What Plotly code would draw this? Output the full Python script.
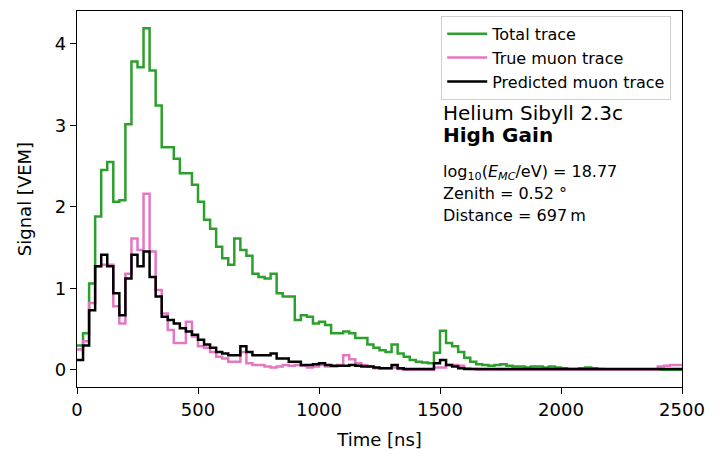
import plotly.graph_objects as go

BIN_NS = 25
# per-bin values (25 ns bins starting at 0 ns)
total_trace = [
    0.30, 0.45, 1.06, 1.88, 2.45, 2.55, 2.06, 2.08, 3.01, 3.78,
    3.71, 4.19, 3.67, 3.24, 2.73, 2.73, 2.59, 2.41, 2.41, 2.27,
    2.06, 1.84, 1.73, 1.51, 1.37, 1.29, 1.61, 1.47, 1.40, 1.18,
    1.14, 1.12, 1.18, 0.94, 0.90, 0.90, 0.61, 0.67, 0.65, 0.57,
    0.59, 0.55, 0.45, 0.45, 0.47, 0.45, 0.39, 0.39, 0.31, 0.27,
    0.24, 0.22, 0.31, 0.20, 0.16, 0.12, 0.10, 0.09, 0.08, 0.21,
    0.48, 0.33, 0.29, 0.22, 0.15, 0.10, 0.07, 0.06, 0.05, 0.06,
    0.07, 0.05, 0.04, 0.04, 0.03, 0.04, 0.04, 0.03, 0.04, 0.03,
    0.02, 0.01, 0.01, 0.02, 0.03, 0.02, 0.01, 0.00, 0.00, 0.00,
    0.00, 0.00, 0.00, 0.00, 0.00, 0.00, 0.00, 0.00, 0.00, 0.00,
]
true_muon = [
    0.25, 0.35, 0.82, 1.27, 1.29, 1.29, 0.78, 0.57, 1.18, 1.61,
    1.47, 2.16, 1.45, 0.98, 0.69, 0.49, 0.33, 0.33, 0.59, 0.41,
    0.29, 0.27, 0.22, 0.16, 0.14, 0.10, 0.10, 0.22, 0.08, 0.06,
    0.06, 0.04, 0.03, 0.04, 0.06, 0.05, 0.06, 0.05, 0.03, 0.04,
    0.06, 0.04, 0.04, 0.06, 0.18, 0.13, 0.08, 0.06, 0.04, 0.02,
    0.02, 0.02, 0.03, 0.01, 0.00, 0.00, 0.00, 0.00, 0.00, 0.03,
    0.03, 0.06, 0.06, 0.05, 0.02, 0.01, 0.00, 0.00, 0.00, 0.00,
    0.00, 0.00, 0.00, 0.00, 0.00, 0.00, 0.00, 0.00, 0.00, 0.00,
    0.00, 0.00, 0.00, 0.00, 0.00, 0.00, 0.00, 0.00, 0.00, 0.00,
    0.00, 0.00, 0.00, 0.00, 0.00, 0.00, 0.04, 0.05, 0.06, 0.06,
]
predicted_muon = [
    0.12, 0.30, 0.73, 1.27, 1.41, 1.27, 0.94, 0.67, 1.12, 1.41,
    1.27, 1.45, 1.14, 0.90, 0.65, 0.61, 0.57, 0.51, 0.47, 0.43,
    0.37, 0.31, 0.27, 0.22, 0.20, 0.18, 0.18, 0.29, 0.22, 0.18,
    0.18, 0.18, 0.20, 0.14, 0.14, 0.10, 0.10, 0.06, 0.06, 0.07,
    0.08, 0.06, 0.05, 0.05, 0.05, 0.06, 0.05, 0.04, 0.04, 0.03,
    0.02, 0.02, 0.06, 0.02, 0.01, 0.01, 0.01, 0.01, 0.01, 0.08,
    0.12, 0.06, 0.04, 0.02, 0.01, 0.01, 0.01, 0.01, 0.01, 0.01,
    0.01, 0.01, 0.01, 0.01, 0.01, 0.01, 0.01, 0.01, 0.01, 0.01,
    0.01, 0.01, 0.01, 0.01, 0.01, 0.01, 0.01, 0.01, 0.01, 0.01,
    0.01, 0.01, 0.01, 0.01, 0.01, 0.01, 0.01, 0.01, 0.01, 0.01,
]
series_names = ["Total trace", "True muon trace", "Predicted muon trace"]
series_colors = ["#2ca02c", "#e377c2", "#000000"]
x_ticks = [0, 500, 1000, 1500, 2000, 2500]
y_ticks = [0, 1, 2, 3, 4]

n_bins = len(total_trace)
edges = [i * BIN_NS for i in range(n_bins + 1)]

FONT = "DejaVu Sans"
fig = go.Figure()
for name, vals, col in zip(series_names, [total_trace, true_muon, predicted_muon], series_colors):
    fig.add_trace(go.Scatter(
        x=edges, y=vals + [vals[-1]], mode="lines", name=name,
        line=dict(color=col, width=2.5, shape="hv"), legendgroup=name,
    ))

fig.update_layout(
    width=715, height=458,
    margin=dict(l=77, r=31, t=10, b=71),
    paper_bgcolor="white", plot_bgcolor="white",
    font=dict(family=FONT, color="black", size=18),
    showlegend=True,
    legend=dict(
        x=0.602, xanchor="left", y=0.987, yanchor="top",
        bgcolor="rgba(255,255,255,0.8)", bordercolor="#d0d0d0", borderwidth=1,
        font=dict(family=FONT, size=16, color="black"),
        tracegroupgap=0, itemwidth=40,
    ),
    xaxis=dict(
        range=[0, 2500], tickvals=x_ticks, ticks="outside", ticklen=6,
        tickwidth=1.2, tickcolor="black", showline=True, linecolor="black",
        linewidth=1.2, mirror=True, showgrid=False, zeroline=False,
        title=dict(text="Time [ns]", font=dict(size=18), standoff=14),
        tickfont=dict(size=18),
    ),
    yaxis=dict(
        range=[-0.21, 4.40], tickvals=y_ticks, ticks="outside", ticklen=6,
        tickwidth=1.2, tickcolor="black", showline=True, linecolor="black",
        linewidth=1.2, mirror=True, showgrid=False, zeroline=False,
        title=dict(text="Signal [VEM]", font=dict(size=18), standoff=18),
        tickfont=dict(size=18),
    ),
)

ann_x = 0.601
fig.add_annotation(xref="paper", yref="paper", x=ann_x, y=0.730, xanchor="left", yanchor="middle",
                   text="Helium Sibyll 2.3c", showarrow=False, font=dict(family=FONT, size=20))
fig.add_annotation(xref="paper", yref="paper", x=ann_x, y=0.671, xanchor="left", yanchor="middle",
                   text="<b>High Gain</b>", showarrow=False, font=dict(family=FONT, size=20))
fig.add_annotation(xref="paper", yref="paper", x=ann_x, y=0.571, xanchor="left", yanchor="middle",
                   text="log<sub>10</sub>(<i>E<sub>MC</sub></i>/eV) = 18.77", showarrow=False,
                   font=dict(family=FONT, size=16))
fig.add_annotation(xref="paper", yref="paper", x=ann_x, y=0.515, xanchor="left", yanchor="middle",
                   text="Zenith = 0.52 °", showarrow=False, font=dict(family=FONT, size=16))
fig.add_annotation(xref="paper", yref="paper", x=ann_x, y=0.456, xanchor="left", yanchor="middle",
                   text="Distance = 697\u2009m", showarrow=False, font=dict(family=FONT, size=16))

fig.write_html("out.html")
